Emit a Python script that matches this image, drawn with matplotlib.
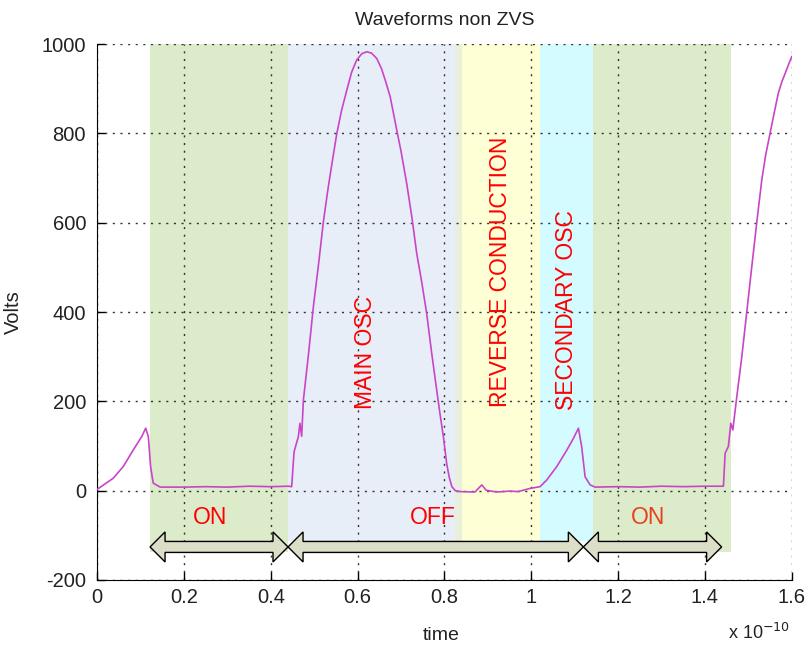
import matplotlib.pyplot as plt
import numpy as np
from matplotlib.patches import Polygon

plt.rcParams['font.family'] = ['Liberation Sans', 'DejaVu Sans']
plt.rcParams['axes.unicode_minus'] = False

# time in units of 1e-10 s, voltage in V
time = [0.000, 0.037, 0.060, 0.083, 0.1025, 0.1117, 0.1178, 0.123, 0.129, 0.145,
        0.20, 0.25, 0.30, 0.35, 0.40, 0.44,
        0.448, 0.4535, 0.4634, 0.467, 0.471, 0.475, 0.487, 0.498, 0.51, 0.521,
        0.532, 0.542, 0.552, 0.563, 0.575, 0.586, 0.598, 0.61, 0.621, 0.632,
        0.644, 0.655, 0.665, 0.675, 0.690, 0.70, 0.713, 0.725, 0.736, 0.748,
        0.759, 0.77, 0.782, 0.79, 0.7975, 0.805, 0.811, 0.817, 0.825, 0.836,
        0.87, 0.886, 0.896, 0.92, 0.95, 0.97, 0.997, 1.0203,
        1.0357, 1.0587, 1.082, 1.097, 1.1086, 1.116, 1.124, 1.1355, 1.147,
        1.20, 1.25, 1.30, 1.35, 1.40, 1.4426,
        1.4466, 1.454, 1.4597, 1.4643, 1.4735, 1.485, 1.4965, 1.508, 1.5196,
        1.531, 1.540, 1.550, 1.560, 1.569, 1.577, 1.585, 1.593, 1.600]
volts = [3, 28, 54, 91, 121, 140, 121, 54, 17, 8,
         8, 9, 8, 10, 9, 10,
         9, 87, 121, 151, 122, 203, 308, 412, 508, 602,
         678, 740, 800, 852, 897, 937, 965, 979, 983, 980,
         968, 945, 915, 882, 808, 760, 688, 612, 532, 465,
         397, 312, 226, 170, 121, 61, 30, 9, 0, -2,
         -3, 13, 1, -3, -1, -2, 5, 9,
         24, 54, 91, 117, 140, 99, 31, 13, 8,
         9, 8, 10, 9, 10, 10,
         84, 99, 151, 136, 211, 300, 401, 502, 602,
         696, 752, 800, 848, 890, 915, 935, 955, 972]

# shaded phases: start, end, lower edge, colour
phase_start = [0.1217, 0.439, 0.8244, 0.840, 1.0203, 1.1424]
phase_end = [0.439, 0.8244, 0.840, 1.0203, 1.1424, 1.460]
phase_bottom = [-137, -112, -112, -112, -112, -137]
phase_color = ['#dcebca', '#e8eef8', '#e8f0dc', '#ffffd6', '#d4fbff', '#dcebca']

# ON / OFF / ON arrows
arrow_start = [0.1217, 0.4396, 1.120]
arrow_end = [0.4396, 1.120, 1.4385]
arrow_text = ['ON', 'OFF', 'ON']
arrow_text_x = [0.26, 0.774, 1.269]
arrow_text_color = ['#ff0000', '#ff0000', '#e8401c']

# rotated phase names
osc_text = ['MAIN OSC', 'REVERSE CONDUCTION', 'SECONDARY OSC']
osc_x = [0.617, 0.928, 1.080]
osc_y = [184, 187, 180]

fig = plt.figure(figsize=(8.06, 6.46), dpi=100)
ax = fig.add_axes([0.1206, 0.1022, 0.8617, 0.8294])

for x0, x1, yb, c in zip(phase_start, phase_end, phase_bottom, phase_color):
    ax.fill_between([x0, x1], yb, 1000, color=c, lw=0, zorder=1)

ax.plot(time, volts, color='#c845c8', lw=1.2, zorder=3)

# double headed block arrows
yc, body, head, hl = -126, 12.3, 33.6, 0.0346
for x0, x1 in zip(arrow_start, arrow_end):
    pts = [(x0, yc), (x0 + hl, yc + head), (x0 + hl, yc + body),
           (x1 - hl, yc + body), (x1 - hl, yc + head), (x1, yc),
           (x1 - hl, yc - head), (x1 - hl, yc - body), (x0 + hl, yc - body),
           (x0 + hl, yc - head)]
    ax.add_patch(Polygon(pts, closed=True, fc='#dcdec8', ec='black', lw=1.0, zorder=4))

for x, s, c in zip(arrow_text_x, arrow_text, arrow_text_color):
    ax.text(x, -59, s, color=c, fontsize=16.5, ha='center', va='center', zorder=5)

for x, y, s in zip(osc_x, osc_y, osc_text):
    ax.text(x, y, s, color='#ff0000', fontsize=16.5, rotation=90,
            ha='center', va='bottom', zorder=5)

ax.set_xlim(0, 1.6)
ax.set_ylim(-200, 1000)
ax.set_xticks(np.arange(0, 1.61, 0.2))
ax.set_xticklabels(['0', '0.2', '0.4', '0.6', '0.8', '1', '1.2', '1.4', '1.6'])
ax.set_yticks(np.arange(-200, 1001, 200))
ax.grid(True, color='#333333', linestyle=(0, (1.5, 4)), linewidth=1.0)
ax.spines['top'].set_visible(False)
ax.spines['right'].set_visible(False)
ax.tick_params(direction='in', length=6, width=1, labelsize=14.5,
               labelcolor='#222222', pad=6)
ax.tick_params(axis='y', pad=8)

ax.text(0.5, 1.045, 'Waveforms non ZVS', transform=ax.transAxes,
        ha='center', va='center', fontsize=14, color='#222222')
ax.set_xlabel('time', fontsize=14, color='#222222')
ax.xaxis.set_label_coords(0.495, -0.088)
ax.set_ylabel('Volts', fontsize=14.5, color='#222222')
ax.yaxis.set_label_coords(-0.1076, 0.5)
ax.text(0.998, -0.098, r'x 10$^{-10}$', transform=ax.transAxes,
        ha='right', va='center', fontsize=13, color='#222222')

fig.savefig('out.png', dpi=100)
